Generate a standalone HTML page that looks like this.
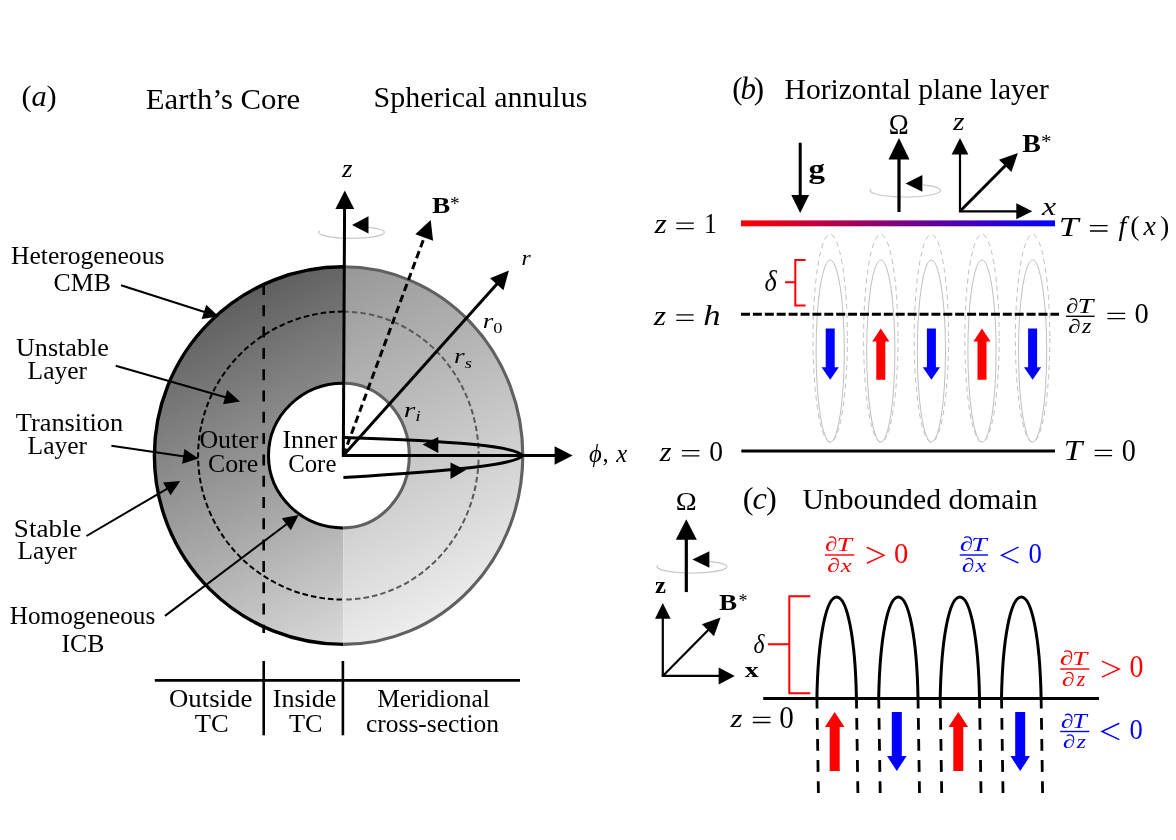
<!DOCTYPE html>
<html><head><meta charset="utf-8"><style>html,body{margin:0;padding:0;background:#fff;}svg{display:block;font-family:"Liberation Serif",serif;}</style></head><body><svg style="will-change:transform" width="1176" height="840" viewBox="0 0 1176 840"><rect width="1176" height="840" fill="#fff"/>
<defs><linearGradient id="gL" gradientUnits="userSpaceOnUse" x1="170" y1="280" x2="343" y2="640"><stop offset="0" stop-color="#505050"/><stop offset="1" stop-color="#d8d8d8"/></linearGradient><linearGradient id="gR" gradientUnits="userSpaceOnUse" x1="343" y1="270" x2="520" y2="630"><stop offset="0" stop-color="#989898"/><stop offset="1" stop-color="#f8f8f8"/></linearGradient><linearGradient id="gRB" gradientUnits="userSpaceOnUse" x1="741" y1="0" x2="1055" y2="0"><stop offset="0" stop-color="#ff0000"/><stop offset="1" stop-color="#0000ff"/></linearGradient></defs>
<path d="M343.3,266.8 A188.9,188.8 0 0 0 343.3,644.4 L343.3,527.9 A74.8,72.3 0 0 1 343.3,383.3 Z" fill="url(#gL)"/>
<path d="M343.3,266.8 A179.5,188.8 0 0 1 343.3,644.4 L343.3,527.9 A66,72.3 0 0 0 343.3,383.3 Z" fill="url(#gR)"/>
<path d="M343.3,311.6 A145.2,144 0 0 0 343.3,599.6" fill="none" stroke="#000" stroke-width="2" stroke-dasharray="5.6 3.0"/>
<path d="M343.3,311.6 A135.3,144 0 0 1 343.3,599.6" fill="none" stroke="#5a5a5a" stroke-width="2" stroke-dasharray="5.6 3.0"/>
<path d="M343.3,266.8 A188.9,188.8 0 0 0 343.3,644.4" fill="none" stroke="#000" stroke-width="3.4"/>
<path d="M343.3,266.8 A179.5,188.8 0 0 1 343.3,644.4" fill="none" stroke="#606060" stroke-width="3.1"/>
<path d="M343.3,383.3 A74.8,72.3 0 0 0 343.3,527.9" fill="none" stroke="#000" stroke-width="3"/>
<path d="M343.3,383.3 A66,72.3 0 0 1 343.3,527.9" fill="none" stroke="#606060" stroke-width="3.1"/>
<line x1="263.7" y1="284" x2="263.7" y2="633" stroke="#000" stroke-width="2.6" stroke-dasharray="11 10.3"/>
<line x1="154.8" y1="680.4" x2="520" y2="680.4" stroke="#000" stroke-width="2.6"/>
<line x1="263.7" y1="661" x2="263.7" y2="735.3" stroke="#000" stroke-width="2.6"/>
<line x1="342.9" y1="661" x2="342.9" y2="735.3" stroke="#000" stroke-width="2.6"/>
<path d="M368,227.2 A32.8,6 0 1 1 319.92,230.85" fill="none" stroke="#c8c8c8" stroke-width="1.2"/>
<line x1="343.3" y1="457" x2="344.6" y2="205" stroke="#000" stroke-width="3"/>
<polygon points="344.8,190.4 335.4,209 354.2,209" fill="#000"/>
<polygon points="352,225 368.5,216.3 368.5,233.6" fill="#000"/>
<line x1="343.3" y1="455.6" x2="425.5" y2="234.03" stroke="#000" stroke-width="3" stroke-linecap="butt" stroke-dasharray="7.5 4.2"/><polygon points="430.7,220 433.1,240.84 415.29,234.23" fill="#000"/>
<line x1="343.3" y1="455.6" x2="499.19" y2="281.45" stroke="#000" stroke-width="3" stroke-linecap="butt"/><polygon points="508.9,270.6 503.47,290.16 490.06,278.16" fill="#000"/>
<line x1="342" y1="455.6" x2="558.2" y2="455.51" stroke="#000" stroke-width="3" stroke-linecap="butt"/><polygon points="572.6,455.5 554.6,464.71 554.6,446.31" fill="#000"/>
<path d="M343.4,437.4 C455,441 515,446 522.8,455.6 C515,465 455,470.5 343.4,477.6" fill="none" stroke="#000" stroke-width="3"/>
<polygon points="422.5,444.6 438.3,436.9 438.3,453" fill="#000"/>
<polygon points="465.9,470.1 450.5,462.4 450.5,479.1" fill="#000"/>
<line x1="121" y1="285.2" x2="206.89" y2="312.81" stroke="#000" stroke-width="2" stroke-linecap="butt"/><polygon points="218.7,316.6 201.65,319 206.24,304.72" fill="#000"/>
<line x1="115.7" y1="365.7" x2="228.08" y2="397.98" stroke="#000" stroke-width="2" stroke-linecap="butt"/><polygon points="240,401.4 223.03,404.33 227.17,389.91" fill="#000"/>
<line x1="111.4" y1="445.7" x2="186.33" y2="456.79" stroke="#000" stroke-width="2" stroke-linecap="butt"/><polygon points="198.6,458.6 182.17,463.75 184.36,448.91" fill="#000"/>
<line x1="86.5" y1="536" x2="169.51" y2="487.28" stroke="#000" stroke-width="2" stroke-linecap="butt"/><polygon points="180.2,481 170.63,495.31 163.04,482.38" fill="#000"/>
<line x1="165" y1="615.9" x2="288.8" y2="522.47" stroke="#000" stroke-width="2" stroke-linecap="butt"/><polygon points="298.7,515 290.85,530.32 281.81,518.35" fill="#000"/>
<ellipse cx="830.2" cy="338.3" rx="17.2" ry="103.9" fill="none" stroke="#c0c0c0" stroke-width="1" stroke-dasharray="5 4"/>
<ellipse cx="830.2" cy="351" rx="14.1" ry="91" fill="none" stroke="#c0c0c0" stroke-width="1"/>
<ellipse cx="880.8" cy="338.3" rx="17.2" ry="103.9" fill="none" stroke="#c0c0c0" stroke-width="1" stroke-dasharray="5 4"/>
<ellipse cx="880.8" cy="351" rx="14.1" ry="91" fill="none" stroke="#c0c0c0" stroke-width="1"/>
<ellipse cx="931.4" cy="338.3" rx="17.2" ry="103.9" fill="none" stroke="#c0c0c0" stroke-width="1" stroke-dasharray="5 4"/>
<ellipse cx="931.4" cy="351" rx="14.1" ry="91" fill="none" stroke="#c0c0c0" stroke-width="1"/>
<ellipse cx="982" cy="338.3" rx="17.2" ry="103.9" fill="none" stroke="#c0c0c0" stroke-width="1" stroke-dasharray="5 4"/>
<ellipse cx="982" cy="351" rx="14.1" ry="91" fill="none" stroke="#c0c0c0" stroke-width="1"/>
<ellipse cx="1032.6" cy="338.3" rx="17.2" ry="103.9" fill="none" stroke="#c0c0c0" stroke-width="1" stroke-dasharray="5 4"/>
<ellipse cx="1032.6" cy="351" rx="14.1" ry="91" fill="none" stroke="#c0c0c0" stroke-width="1"/>
<rect x="741" y="220.4" width="314" height="5.9" fill="url(#gRB)"/>
<line x1="741" y1="314.2" x2="1059" y2="314.2" stroke="#000" stroke-width="3" stroke-dasharray="9 2.9"/>
<line x1="741.3" y1="451" x2="1055" y2="451" stroke="#000" stroke-width="3"/>
<path d="M805.6,260 H795.3 V305.6 H805.6 M795.3,282.3 H785" fill="none" stroke="#ff0000" stroke-width="2"/>
<polygon points="825.7,328.6 834.7,328.6 834.7,367.3 838.8,367.3 830.2,379.8 821.6,367.3 825.7,367.3" fill="#0000ff"/>
<polygon points="876.3,379.8 885.3,379.8 885.3,341.6 889.4,341.6 880.8,328.6 872.2,341.6 876.3,341.6" fill="#ff0000"/>
<polygon points="926.9,328.6 935.9,328.6 935.9,367.3 940,367.3 931.4,379.8 922.8,367.3 926.9,367.3" fill="#0000ff"/>
<polygon points="977.5,379.8 986.5,379.8 986.5,341.6 990.6,341.6 982,328.6 973.4,341.6 977.5,341.6" fill="#ff0000"/>
<polygon points="1028.1,328.6 1037.1,328.6 1037.1,367.3 1041.2,367.3 1032.6,379.8 1024,367.3 1028.1,367.3" fill="#0000ff"/>
<line x1="800.2" y1="142.7" x2="800.2" y2="198.66" stroke="#000" stroke-width="3" stroke-linecap="butt"/><polygon points="800.2,212.9 791.3,195.1 809.1,195.1" fill="#000"/>
<path d="M922.95,184.87 A35.3,6.5 0 1 1 871.2,188.82" fill="none" stroke="#c8c8c8" stroke-width="1.2"/>
<line x1="899" y1="212" x2="899" y2="155.2" stroke="#000" stroke-width="3.2" stroke-linecap="butt"/><polygon points="899,138 909.5,159.5 888.5,159.5" fill="#000"/>
<polygon points="905.6,183.4 922.4,175.1 922.4,191.8" fill="#000"/>
<line x1="960" y1="211.3" x2="960" y2="151.22" stroke="#000" stroke-width="2.2" stroke-linecap="butt"/><polygon points="960,138.1 968.35,154.5 951.65,154.5" fill="#000"/>
<line x1="958.9" y1="211.3" x2="1019.5" y2="211.3" stroke="#000" stroke-width="2.2" stroke-linecap="butt"/><polygon points="1032.3,211.3 1016.3,219.35 1016.3,203.25" fill="#000"/>
<line x1="960" y1="211.3" x2="1007.74" y2="163.31" stroke="#000" stroke-width="3" stroke-linecap="butt"/><polygon points="1017.9,153.1 1011.41,172.03 999,159.69" fill="#000"/>
<path d="M709.5,561.43 A35,6.2 0 1 1 658.19,565.2" fill="none" stroke="#c8c8c8" stroke-width="1.2"/>
<line x1="686.3" y1="592.1" x2="686.3" y2="535.62" stroke="#000" stroke-width="3.2" stroke-linecap="butt"/><polygon points="686.3,519.3 696.8,539.7 675.8,539.7" fill="#000"/>
<polygon points="692.4,559.5 709.4,551.2 709.4,567.7" fill="#000"/>
<line x1="662.8" y1="675.9" x2="662.8" y2="615.64" stroke="#000" stroke-width="2.2" stroke-linecap="butt"/><polygon points="662.8,603 670.6,618.8 655,618.8" fill="#000"/>
<line x1="661.7" y1="675.9" x2="721.84" y2="675.9" stroke="#000" stroke-width="2.2" stroke-linecap="butt"/><polygon points="734.8,675.9 718.6,684.4 718.6,667.4" fill="#000"/>
<line x1="662.8" y1="675.9" x2="710.47" y2="627.73" stroke="#000" stroke-width="2.2" stroke-linecap="butt"/><polygon points="720.6,617.5 713.98,636.27 701.9,624.31" fill="#000"/>
<path d="M810.3,596.2 H789.3 V693.2 H810.3 M789.3,644.2 H767.9" fill="none" stroke="#ff0000" stroke-width="2"/>
<line x1="763.2" y1="698.4" x2="1099" y2="698.4" stroke="#000" stroke-width="3"/>
<path d="M816.9,698.4 C817.9,640 825.79,597 836.65,597 C847.51,597 855.4,640 856.4,698.4" fill="none" stroke="#000" stroke-width="3"/>
<line x1="816.9" y1="696.8" x2="818.4" y2="793" stroke="#000" stroke-width="2.8" stroke-dasharray="11.8 9.3"/>
<line x1="856.4" y1="696.8" x2="857.9" y2="793" stroke="#000" stroke-width="2.8" stroke-dasharray="11.8 9.3"/>
<path d="M878.7,698.4 C879.7,640 887.54,597 898.35,597 C909.16,597 917,640 918,698.4" fill="none" stroke="#000" stroke-width="3"/>
<line x1="878.7" y1="696.8" x2="880.2" y2="793" stroke="#000" stroke-width="2.8" stroke-dasharray="11.8 9.3"/>
<line x1="918" y1="696.8" x2="919.5" y2="793" stroke="#000" stroke-width="2.8" stroke-dasharray="11.8 9.3"/>
<path d="M940.2,698.4 C941.2,640 949.04,597 959.85,597 C970.66,597 978.5,640 979.5,698.4" fill="none" stroke="#000" stroke-width="3"/>
<line x1="940.2" y1="696.8" x2="941.7" y2="793" stroke="#000" stroke-width="2.8" stroke-dasharray="11.8 9.3"/>
<line x1="979.5" y1="696.8" x2="981" y2="793" stroke="#000" stroke-width="2.8" stroke-dasharray="11.8 9.3"/>
<path d="M1001.5,698.4 C1002.5,640 1010.41,597 1021.3,597 C1032.19,597 1040.1,640 1041.1,698.4" fill="none" stroke="#000" stroke-width="3"/>
<line x1="1001.5" y1="696.8" x2="1003" y2="793" stroke="#000" stroke-width="2.8" stroke-dasharray="11.8 9.3"/>
<line x1="1041.1" y1="696.8" x2="1042.6" y2="793" stroke="#000" stroke-width="2.8" stroke-dasharray="11.8 9.3"/>
<polygon points="829.7,771.1 839.7,771.1 839.7,726.9 844.5,726.9 834.7,712.1 824.9,726.9 829.7,726.9" fill="#ff0000"/>
<polygon points="891.8,712.1 901.8,712.1 901.8,756 906.6,756 896.8,771.1 887,756 891.8,756" fill="#0000ff"/>
<polygon points="953.3,771.1 963.3,771.1 963.3,726.9 968.1,726.9 958.3,712.1 948.5,726.9 953.3,726.9" fill="#ff0000"/>
<polygon points="1015.2,712.1 1025.2,712.1 1025.2,756 1030,756 1020.2,771.1 1010.4,756 1015.2,756" fill="#0000ff"/>
<path d="M676.3,223.2H693.8M676.3,228.6H693.8" stroke="#000" stroke-width="1.3" fill="none"/>
<path d="M676.3,314.9H693.6M676.3,320.4H693.6" stroke="#000" stroke-width="1.3" fill="none"/>
<path d="M681.9,450.6H699.4M681.9,455.9H699.4" stroke="#000" stroke-width="1.3" fill="none"/>
<path d="M1094.7,450.3H1112.1M1094.7,455.7H1112.1" stroke="#000" stroke-width="1.3" fill="none"/>
<path d="M1107.4,313.3H1125.2M1107.4,318.7H1125.2" stroke="#000" stroke-width="1.3" fill="none"/>
<path d="M752.8,717.3H770.5M752.8,722.5H770.5" stroke="#000" stroke-width="1.3" fill="none"/>
<path d="M1089.9,225.6H1107.6M1089.9,231H1107.6" stroke="#000" stroke-width="1.3" fill="none"/>
<polyline points="867.3,547.5 884,555.3 867.3,563" stroke="#ff0000" stroke-width="1.4" fill="none" stroke-linejoin="miter" stroke-linecap="round"/>
<polyline points="1018,547.3 1001.6,555.3 1018,562.8" stroke="#0000ff" stroke-width="1.4" fill="none" stroke-linejoin="miter" stroke-linecap="round"/>
<polyline points="1102.4,661.3 1119.3,669 1102.4,676.8" stroke="#ff0000" stroke-width="1.4" fill="none" stroke-linejoin="miter" stroke-linecap="round"/>
<polyline points="1118.8,723.5 1101.9,731.5 1118.8,739.4" stroke="#0000ff" stroke-width="1.4" fill="none" stroke-linejoin="miter" stroke-linecap="round"/>
<line x1="1066" y1="316.3" x2="1094.6" y2="316.3" stroke="#000" stroke-width="1.4"/>
<line x1="825" y1="555" x2="854.3" y2="555" stroke="#ff0000" stroke-width="1.4"/>
<line x1="959.7" y1="555" x2="988" y2="555" stroke="#0000ff" stroke-width="1.4"/>
<line x1="1060.2" y1="669" x2="1089.3" y2="669" stroke="#ff0000" stroke-width="1.4"/>
<line x1="1060.2" y1="731.5" x2="1089.3" y2="731.5" stroke="#0000ff" stroke-width="1.4"/>
<text x="21.6" y="105.6" font-size="30.38" fill="#000" textLength="35.09" lengthAdjust="spacing">(<tspan font-style="italic">a</tspan>)</text>
<text x="145.8" y="109.4" font-size="28.5" fill="#000" textLength="154.47" lengthAdjust="spacingAndGlyphs">Earth’s Core</text>
<text x="373.6" y="107" font-size="28.5" fill="#000" textLength="213.73" lengthAdjust="spacingAndGlyphs">Spherical annulus</text>
<text x="11" y="263.7" font-size="25" fill="#000" textLength="153.38" lengthAdjust="spacingAndGlyphs">Heterogeneous</text>
<text x="53.6" y="291.2" font-size="25" fill="#000" textLength="57.39" lengthAdjust="spacingAndGlyphs">CMB</text>
<text x="16" y="356.2" font-size="25" fill="#000" textLength="92.87" lengthAdjust="spacingAndGlyphs">Unstable</text>
<text x="27.6" y="379" font-size="25" fill="#000" textLength="59.42" lengthAdjust="spacingAndGlyphs">Layer</text>
<text x="15.8" y="430.8" font-size="25" fill="#000" textLength="107.34" lengthAdjust="spacingAndGlyphs">Transition</text>
<text x="27.6" y="454.2" font-size="25" fill="#000" textLength="59.42" lengthAdjust="spacingAndGlyphs">Layer</text>
<text x="13.8" y="537" font-size="25" fill="#000" textLength="67.82" lengthAdjust="spacingAndGlyphs">Stable</text>
<text x="17.6" y="559.3" font-size="25" fill="#000" textLength="59.12" lengthAdjust="spacingAndGlyphs">Layer</text>
<text x="9.8" y="624.3" font-size="25" fill="#000" textLength="145.43" lengthAdjust="spacingAndGlyphs">Homogeneous</text>
<text x="61.4" y="651.7" font-size="25" fill="#000" textLength="43.03" lengthAdjust="spacingAndGlyphs">ICB</text>
<text x="342" y="176.8" font-size="24.95" fill="#000" textLength="10.49" lengthAdjust="spacingAndGlyphs"><tspan font-style="italic">z</tspan></text>
<text x="431.9" y="213" font-size="23.81" fill="#000" textLength="18.27" lengthAdjust="spacingAndGlyphs"><tspan font-weight="bold">B</tspan></text>
<text x="450" y="210.3" font-size="17.88" fill="#000" textLength="9.6" lengthAdjust="spacingAndGlyphs">*</text>
<text x="521.6" y="264.6" font-size="20.94" fill="#000" textLength="9.21" lengthAdjust="spacingAndGlyphs"><tspan font-style="italic">r</tspan></text>
<text x="482.8" y="328.3" font-size="21.28" fill="#000" textLength="19.77" lengthAdjust="spacingAndGlyphs"><tspan font-style="italic">r</tspan><tspan font-size="14.47" dy="4.68">0</tspan></text>
<text x="454" y="363.3" font-size="21.28" fill="#000" textLength="17.9" lengthAdjust="spacingAndGlyphs"><tspan font-style="italic">r</tspan><tspan font-style="italic" font-size="14.47" dy="4.68">s</tspan></text>
<text x="403.8" y="416.5" font-size="20.86" fill="#000" textLength="17.09" lengthAdjust="spacingAndGlyphs"><tspan font-style="italic">r</tspan><tspan font-style="italic" font-size="14.18" dy="4.59">i</tspan></text>
<text x="199.4" y="448.2" font-size="25" fill="#000" textLength="58.95" lengthAdjust="spacingAndGlyphs">Outer</text>
<text x="208" y="472.4" font-size="25" fill="#000" textLength="50.17" lengthAdjust="spacingAndGlyphs">Core</text>
<text x="282.4" y="448" font-size="25" fill="#000" textLength="54.79" lengthAdjust="spacingAndGlyphs">Inner</text>
<text x="288.2" y="472.4" font-size="25" fill="#000" textLength="48.21" lengthAdjust="spacingAndGlyphs">Core</text>
<text x="589.1" y="462.1" font-size="24.64" fill="#000" textLength="38.16" lengthAdjust="spacing"><tspan font-style="italic">ϕ</tspan>, <tspan font-style="italic">x</tspan></text>
<text x="169" y="707.2" font-size="25" fill="#000" textLength="83.32" lengthAdjust="spacingAndGlyphs">Outside</text>
<text x="194.8" y="732" font-size="25" fill="#000" textLength="33.98" lengthAdjust="spacingAndGlyphs">TC</text>
<text x="272.8" y="707.2" font-size="25" fill="#000" textLength="63.5" lengthAdjust="spacingAndGlyphs">Inside</text>
<text x="289" y="732" font-size="25" fill="#000" textLength="33.57" lengthAdjust="spacingAndGlyphs">TC</text>
<text x="377.2" y="707.2" font-size="25" fill="#000" textLength="112.61" lengthAdjust="spacingAndGlyphs">Meridional</text>
<text x="366" y="732" font-size="25" fill="#000" textLength="132.95" lengthAdjust="spacingAndGlyphs">cross-section</text>
<text x="732.2" y="98.9" font-size="30.99" fill="#000" textLength="31.94" lengthAdjust="spacing">(<tspan font-style="italic">b</tspan>)</text>
<text x="784.6" y="98.9" font-size="28.5" fill="#000" textLength="264.2" lengthAdjust="spacingAndGlyphs">Horizontal plane layer</text>
<text x="808.4" y="177.5" font-size="27.08" fill="#000" textLength="16.51" lengthAdjust="spacingAndGlyphs"><tspan font-weight="bold">g</tspan></text>
<text x="888.8" y="133.8" font-size="28.49" fill="#000" textLength="19.96" lengthAdjust="spacingAndGlyphs">Ω</text>
<text x="953" y="129.6" font-size="24.68" fill="#000" textLength="11.47" lengthAdjust="spacingAndGlyphs"><tspan font-style="italic">z</tspan></text>
<text x="1022.3" y="151.6" font-size="25.17" fill="#000" textLength="18.57" lengthAdjust="spacingAndGlyphs"><tspan font-weight="bold">B</tspan></text>
<text x="1041" y="147.9" font-size="19.48" fill="#000" textLength="10.59" lengthAdjust="spacingAndGlyphs">*</text>
<text x="1042" y="215.3" font-size="24.99" fill="#000" textLength="14.1" lengthAdjust="spacingAndGlyphs"><tspan font-style="italic">x</tspan></text>
<text x="764.6" y="290.7" font-size="29.89" fill="#000" textLength="12.21" lengthAdjust="spacingAndGlyphs"><tspan font-style="italic">δ</tspan></text>
<text x="742.8" y="509.3" font-size="32.44" fill="#000" textLength="34.01" lengthAdjust="spacing">(<tspan font-style="italic">c</tspan>)</text>
<text x="802.4" y="508.6" font-size="28.5" fill="#000" textLength="235.15" lengthAdjust="spacingAndGlyphs">Unbounded domain</text>
<text x="675.8" y="510.1" font-size="26" fill="#000" textLength="20.93" lengthAdjust="spacingAndGlyphs">Ω</text>
<text x="655" y="592.6" font-size="23.61" fill="#000" textLength="10.92" lengthAdjust="spacingAndGlyphs"><tspan font-weight="bold">z</tspan></text>
<text x="719" y="610.4" font-size="23.91" fill="#000" textLength="18.1" lengthAdjust="spacingAndGlyphs"><tspan font-weight="bold">B</tspan></text>
<text x="738.6" y="606.9" font-size="19.48" fill="#000" textLength="9.02" lengthAdjust="spacingAndGlyphs">*</text>
<text x="744.8" y="676.9" font-size="21.65" fill="#000" textLength="13.93" lengthAdjust="spacingAndGlyphs"><tspan font-weight="bold">x</tspan></text>
<text x="753.6" y="652.8" font-size="27.65" fill="#000" textLength="11.01" lengthAdjust="spacingAndGlyphs"><tspan font-style="italic">δ</tspan></text>
<text x="654.6" y="233.2" font-size="27.37" fill="#000" textLength="12.27" lengthAdjust="spacingAndGlyphs"><tspan font-style="italic">z</tspan></text>
<text x="704" y="232.9" font-size="29.56" fill="#000" textLength="12.79" lengthAdjust="spacingAndGlyphs">1</text>
<text x="653.8" y="324.9" font-size="26.59" fill="#000" textLength="12.28" lengthAdjust="spacingAndGlyphs"><tspan font-style="italic">z</tspan></text>
<text x="703.2" y="324.7" font-size="29.05" fill="#000" textLength="17.27" lengthAdjust="spacingAndGlyphs"><tspan font-style="italic">h</tspan></text>
<text x="659.8" y="460.6" font-size="27.2" fill="#000" textLength="11.78" lengthAdjust="spacingAndGlyphs"><tspan font-style="italic">z</tspan></text>
<text x="709.2" y="460.9" font-size="29.82" fill="#000" textLength="13.73" lengthAdjust="spacingAndGlyphs">0</text>
<text x="1063.8" y="460.1" font-size="29.09" fill="#000" textLength="18.5" lengthAdjust="spacingAndGlyphs"><tspan font-style="italic">T</tspan></text>
<text x="1121.8" y="460.6" font-size="30.79" fill="#000" textLength="14.08" lengthAdjust="spacingAndGlyphs">0</text>
<text x="1134.4" y="323.4" font-size="29.07" fill="#000" textLength="14.24" lengthAdjust="spacingAndGlyphs">0</text>
<text x="730.6" y="726.9" font-size="25.48" fill="#000" textLength="11.95" lengthAdjust="spacingAndGlyphs"><tspan font-style="italic">z</tspan></text>
<text x="779.2" y="727.5" font-size="30.8" fill="#000" textLength="14.58" lengthAdjust="spacingAndGlyphs">0</text>
<text x="894" y="562.8" font-size="29.83" fill="#ff0000" textLength="14.32" lengthAdjust="spacingAndGlyphs">0</text>
<text x="1028.4" y="562.8" font-size="29.83" fill="#0000ff" textLength="13.39" lengthAdjust="spacingAndGlyphs">0</text>
<text x="1129.4" y="676.6" font-size="30.79" fill="#ff0000" textLength="13.96" lengthAdjust="spacingAndGlyphs">0</text>
<text x="1129.4" y="739" font-size="29.56" fill="#0000ff" textLength="13.31" lengthAdjust="spacingAndGlyphs">0</text>
<text x="1058.8" y="235.7" font-size="28.03" fill="#000" textLength="19.73" lengthAdjust="spacingAndGlyphs"><tspan font-style="italic">T</tspan></text>
<text x="1118.4" y="235.2" font-size="27.92" fill="#000" textLength="50.85" lengthAdjust="spacing"><tspan font-style="italic">f</tspan>(<tspan font-style="italic">x</tspan>)</text>
<text x="1066" y="312.6" font-size="20.82" fill="#000" textLength="12.11" lengthAdjust="spacingAndGlyphs">∂</text>
<text x="1077.4" y="312.7" font-size="20.95" fill="#000" textLength="15.79" lengthAdjust="spacingAndGlyphs"><tspan font-style="italic">T</tspan></text>
<text x="1068" y="333.1" font-size="19.82" fill="#000" textLength="12.54" lengthAdjust="spacingAndGlyphs">∂</text>
<text x="1082" y="332.9" font-size="20.31" fill="#000" textLength="9.38" lengthAdjust="spacingAndGlyphs"><tspan font-style="italic">z</tspan></text>
<text x="825" y="551.3" font-size="20.64" fill="#ff0000" textLength="12.57" lengthAdjust="spacingAndGlyphs">∂</text>
<text x="836.4" y="551.4" font-size="19.31" fill="#ff0000" textLength="15.45" lengthAdjust="spacingAndGlyphs"><tspan font-style="italic">T</tspan></text>
<text x="827" y="571.8" font-size="19.71" fill="#ff0000" textLength="12.81" lengthAdjust="spacingAndGlyphs">∂</text>
<text x="840.8" y="572" font-size="19.64" fill="#ff0000" textLength="10.88" lengthAdjust="spacingAndGlyphs"><tspan font-style="italic">x</tspan></text>
<text x="959.8" y="551.3" font-size="20.64" fill="#0000ff" textLength="13.52" lengthAdjust="spacingAndGlyphs">∂</text>
<text x="971.2" y="551.4" font-size="19.31" fill="#0000ff" textLength="15.45" lengthAdjust="spacingAndGlyphs"><tspan font-style="italic">T</tspan></text>
<text x="961.8" y="571.8" font-size="19.71" fill="#0000ff" textLength="12.53" lengthAdjust="spacingAndGlyphs">∂</text>
<text x="975.6" y="572" font-size="19.64" fill="#0000ff" textLength="10.55" lengthAdjust="spacingAndGlyphs"><tspan font-style="italic">x</tspan></text>
<text x="1059.8" y="665.3" font-size="20.64" fill="#ff0000" textLength="13.82" lengthAdjust="spacingAndGlyphs">∂</text>
<text x="1072.2" y="665.4" font-size="19.31" fill="#ff0000" textLength="14.97" lengthAdjust="spacingAndGlyphs"><tspan font-style="italic">T</tspan></text>
<text x="1061.8" y="685.8" font-size="19.71" fill="#ff0000" textLength="12.81" lengthAdjust="spacingAndGlyphs">∂</text>
<text x="1076.8" y="685.6" font-size="20.17" fill="#ff0000" textLength="8.51" lengthAdjust="spacingAndGlyphs"><tspan font-style="italic">z</tspan></text>
<text x="1060.8" y="727.8" font-size="19.97" fill="#0000ff" textLength="12.72" lengthAdjust="spacingAndGlyphs">∂</text>
<text x="1072.2" y="727.9" font-size="20.03" fill="#0000ff" textLength="14.52" lengthAdjust="spacingAndGlyphs"><tspan font-style="italic">T</tspan></text>
<text x="1062.8" y="748.3" font-size="19" fill="#0000ff" textLength="12.36" lengthAdjust="spacingAndGlyphs">∂</text>
<text x="1076.8" y="748.1" font-size="19" fill="#0000ff" textLength="9.2" lengthAdjust="spacingAndGlyphs"><tspan font-style="italic">z</tspan></text>
</svg></body></html>
